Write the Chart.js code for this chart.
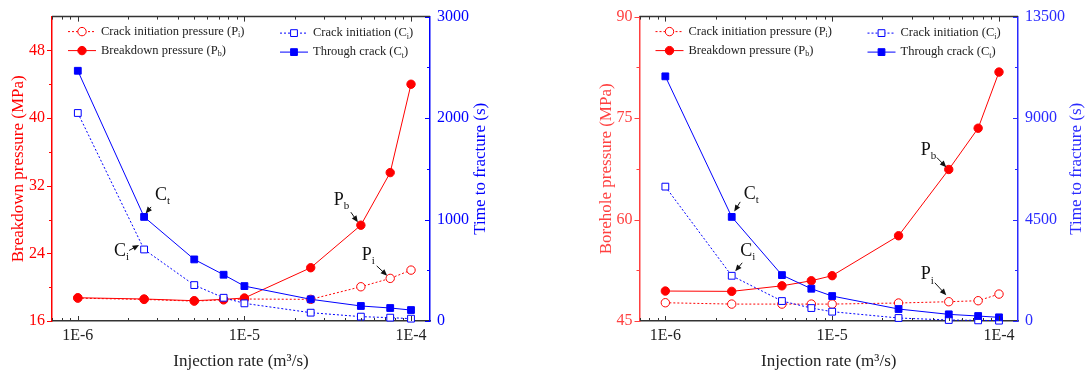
<!DOCTYPE html>
<html>
<head>
<meta charset="utf-8">
<script src="https://cdn.jsdelivr.net/npm/chart.js@4.4.0/dist/chart.umd.min.js"></script>
<style>
  html, body { margin: 0; padding: 0; background: #fff; }
  #wrap { display: flex; width: 1088px; height: 376px; }
  .box { width: 544px; height: 376px; }
</style>
</head>
<body>
<div id="wrap">
  <div class="box"><canvas id="left" width="544" height="376"></canvas></div>
  <div class="box"><canvas id="right" width="544" height="376"></canvas></div>
</div>
<script>
// shared x values (injection rate, m3/s)
const injectionRate = [1e-6, 2.5e-6, 5e-6, 7.5e-6, 1e-5, 2.5e-5, 5e-5, 7.5e-5, 1e-4];
const rateTicks = [1e-6, 1e-5, 1e-4];

// left panel
const leftPi = [18.7, 18.55, 18.35, 18.5, 18.6, 18.56, 20.05, 21.04, 22.02];
const leftPb = [18.75, 18.6, 18.4, 18.56, 18.72, 22.3, 27.33, 33.55, 44.0];
const leftCi = [2050, 705, 354, 229, 174, 82, 43, 33, 23];
const leftCt = [2466, 1026, 607, 456, 344, 214, 148, 128, 108];
const leftPressureTicks = [16, 24, 32, 40, 48];
const leftTimeTicks = [0, 1000, 2000, 3000];

// right panel
const rightPi = [47.7, 47.5, 47.5, 47.5, 47.5, 47.66, 47.85, 48.0, 48.98];
const rightPb = [49.43, 49.38, 50.2, 50.95, 51.7, 57.6, 67.4, 73.5, 81.8];
const rightCi = [5960, 2006, 885, 575, 413, 133, 44, 29, 15];
const rightCt = [10850, 4617, 2036, 1431, 1106, 531, 295, 221, 162];
const rightPressureTicks = [45, 60, 75, 90];
const rightTimeTicks = [0, 4500, 9000, 13500];

const SERIF = "'Liberation Serif', 'Times New Roman', serif";
Chart.defaults.font.family = SERIF;

const RED = '#ff0000', BLUE = '#0000ff';

const legendItems = [
  { ds: 0, col: 0, row: 0, text: ['Crack initiation pressure (P', 'i', ')'] },
  { ds: 1, col: 0, row: 1, text: ['Breakdown pressure (P', 'b', ')'] },
  { ds: 2, col: 1, row: 0, text: ['Crack initiation (C', 'i', ')'] },
  { ds: 3, col: 1, row: 1, text: ['Through crack (C', 't', ')'] }
];

function subText(ctx, parts, x, y, size, subSize, subDrop){
  ctx.font = size + 'px ' + SERIF;
  ctx.fillText(parts[0], x, y);
  x += ctx.measureText(parts[0]).width;
  ctx.font = subSize + 'px ' + SERIF;
  ctx.fillText(parts[1], x, y + subDrop);
  x += ctx.measureText(parts[1]).width;
  if (parts[2]) {
    ctx.font = size + 'px ' + SERIF;
    ctx.fillText(parts[2], x, y);
  }
}

function marker(ctx, style, x, y, r, color, filled){
  ctx.beginPath();
  if (style === 'circle') ctx.arc(x, y, r, 0, Math.PI * 2);
  else { const h = r * Math.SQRT1_2; ctx.rect(x - h, y - h, 2 * h, 2 * h); }
  ctx.fillStyle = filled ? color : '#fff';
  ctx.fill();
  ctx.lineWidth = 1; ctx.strokeStyle = color; ctx.setLineDash([]);
  ctx.stroke();
}

function arrow(ctx, x0, y0, x1, y1){
  const ang = Math.atan2(y1 - y0, x1 - x0), L = 6.5, W = 2.8;
  ctx.beginPath(); ctx.moveTo(x0, y0);
  ctx.lineTo(x1 - Math.cos(ang) * L * 0.8, y1 - Math.sin(ang) * L * 0.8); ctx.stroke();
  ctx.beginPath();
  ctx.moveTo(x1, y1);
  ctx.lineTo(x1 - Math.cos(ang) * L - Math.sin(ang) * W, y1 - Math.sin(ang) * L + Math.cos(ang) * W);
  ctx.lineTo(x1 - Math.cos(ang) * L + Math.sin(ang) * W, y1 - Math.sin(ang) * L - Math.cos(ang) * W);
  ctx.closePath(); ctx.fill();
}

// ticks, top frame line, right title, legend, annotations
const decor = {
  id: 'decor',
  afterDraw(chart){
    const p = chart.options.plugins.decor;
    const ctx = chart.ctx, a = chart.chartArea;
    const x = chart.scales.x, y = chart.scales.y, y1 = chart.scales.y1;
    ctx.save();
    // top frame
    ctx.strokeStyle = '#333'; ctx.lineWidth = 1.5;
    ctx.beginPath(); ctx.moveTo(a.left, a.top); ctx.lineTo(a.right, a.top); ctx.stroke();
    ctx.lineWidth = 1;
    // log x ticks, inward on top and bottom
    const lo = Math.floor(Math.log10(x.min)), hi = Math.ceil(Math.log10(x.max));
    for (let d = lo; d <= hi; d++) for (let k = 1; k <= 9; k++) {
      const v = k * Math.pow(10, d);
      if (v < x.min || v > x.max) continue;
      const px = Math.round(x.getPixelForValue(v)) + 0.5, len = k === 1 ? 5 : 3;
      ctx.beginPath();
      ctx.moveTo(px, a.bottom); ctx.lineTo(px, a.bottom - len);
      ctx.moveTo(px, a.top); ctx.lineTo(px, a.top + len);
      ctx.stroke();
    }
    // y ticks: left outward, right inward
    const yTicks = (s, ticks, color, dir, edge) => {
      ctx.strokeStyle = color;
      const step = ticks[1] - ticks[0];
      const draw = (v, len) => {
        const py = Math.round(s.getPixelForValue(v)) + 0.5;
        ctx.beginPath(); ctx.moveTo(edge, py); ctx.lineTo(edge + dir * len, py); ctx.stroke();
      };
      ticks.forEach(v => draw(v, 5));
      for (let v = ticks[0] + step / 2; v < s.max; v += step) draw(v, 3);
    };
    yTicks(y, p.pTicks, p.redAxis, -1, a.left);
    yTicks(y1, p.tTicks, p.blueAxis, -1, a.right);

    // right axis title, reading bottom to top
    ctx.fillStyle = p.blueAxis;
    ctx.font = '17px ' + SERIF; ctx.textAlign = 'center'; ctx.textBaseline = 'middle';
    ctx.translate(a.right + p.timeTitleGap, (a.top + a.bottom) / 2);
    ctx.rotate(-Math.PI / 2);
    ctx.fillText(p.timeTitle, 0, 0);
    ctx.restore();

    // legend inside the plot
    ctx.save();
    ctx.textAlign = 'left'; ctx.textBaseline = 'middle';
    legendItems.forEach(it => {
      const ds = chart.data.datasets[it.ds];
      const lx = a.left + (it.col ? 228 : 16), ly = a.top + (it.row ? 34 : 15) + (it.col ? 1.5 : 0);
      ctx.strokeStyle = ds.borderColor; ctx.lineWidth = 1;
      ctx.setLineDash(ds.borderDash || []);
      ctx.beginPath(); ctx.moveTo(lx, ly); ctx.lineTo(lx + 28, ly); ctx.stroke();
      marker(ctx, ds.pointStyle, lx + 14, ly, ds.pointRadius, ds.borderColor, ds.pointBackgroundColor !== '#fff');
      ctx.fillStyle = '#222';
      subText(ctx, it.text, lx + 33, ly, 12.5, 8, 3.5);
    });
    ctx.restore();

    // annotations
    ctx.save();
    ctx.fillStyle = '#111'; ctx.strokeStyle = '#111'; ctx.lineWidth = 1;
    ctx.textAlign = 'left'; ctx.textBaseline = 'middle';
    p.notes.forEach(n => {
      const pt = chart.getDatasetMeta(n.ds).data[n.idx];
      subText(ctx, n.label, pt.x + n.tx, pt.y + n.ty, 18, 11, 6);
      arrow(ctx, pt.x + n.a[0], pt.y + n.a[1], pt.x + n.a[2], pt.y + n.a[3]);
    });
    ctx.restore();
  }
};

function series(label, vals, color, axis, style, filled, dashed, order){
  return {
    label, yAxisID: axis, order,
    data: injectionRate.map((r, i) => ({ x: r, y: vals[i] })),
    borderColor: color, borderWidth: 1, borderDash: dashed ? [2, 2] : [],
    pointStyle: style, pointRadius: style === 'circle' ? 4.2 : 4.8,
    pointBackgroundColor: filled ? color : '#fff', pointBorderColor: color, pointBorderWidth: 1,
    fill: false, tension: 0, clip: false
  };
}

function makePanel(id, p){
  new Chart(document.getElementById(id), {
    type: 'line',
    data: { datasets: [
      series('Crack initiation pressure (Pi)', p.pi, RED, 'y', 'circle', false, true, 3),
      series('Breakdown pressure (Pb)', p.pb, RED, 'y', 'circle', true, false, 2),
      series('Crack initiation (Ci)', p.ci, BLUE, 'y1', 'rect', false, true, 1),
      series('Through crack (Ct)', p.ct, BLUE, 'y1', 'rect', true, false, 0)
    ]},
    options: {
      responsive: false, animation: false,
      layout: { padding: { left: p.padLeft, right: 0, top: 16, bottom: 0 } },
      plugins: { legend: { display: false }, tooltip: { enabled: false }, decor: p },
      scales: {
        x: {
          type: 'logarithmic', min: 7e-7, max: 1.3e-4,
          afterBuildTicks: s => { s.ticks = rateTicks.map(v => ({ value: v })); },
          afterFit: s => { s.height = 55; },
          grid: { display: false, drawTicks: false },
          border: { display: true, color: '#333', width: 1.5 },
          ticks: { color: '#222', font: { size: 16 }, padding: 5, maxRotation: 0, autoSkip: false,
                   callback: v => '1E' + Math.round(Math.log10(v)) },
          title: { display: true, text: 'Injection rate (m³/s)', color: '#222', font: { size: 17 }, padding: { top: 0, bottom: 4 } }
        },
        y: {
          position: 'left', min: p.pTicks[0], max: p.pMax,
          afterBuildTicks: s => { s.ticks = p.pTicks.map(v => ({ value: v })); },
          afterFit: s => { s.width = p.yWidth; },
          grid: { display: false, drawTicks: false },
          border: { display: true, color: p.redAxis, width: 1.5 },
          ticks: { color: p.redAxis, font: { size: 16 }, padding: 7, callback: v => String(v) },
          title: { display: true, text: p.pressureTitle, color: p.redAxis, font: { size: 17 }, padding: { top: 8 } }
        },
        y1: {
          position: 'right', min: 0, max: p.tTicks[p.tTicks.length - 1],
          afterBuildTicks: s => { s.ticks = p.tTicks.map(v => ({ value: v })); },
          afterFit: s => { s.width = p.y1Width; },
          grid: { display: false, drawTicks: false },
          border: { display: true, color: p.blueAxis, width: 1.5 },
          ticks: { color: p.blueAxis, font: { size: 16 }, padding: 7, callback: v => String(v) }
        }
      }
    },
    plugins: [decor]
  });
}

makePanel('left', {
  pi: leftPi, pb: leftPb, ci: leftCi, ct: leftCt,
  pTicks: leftPressureTicks, pMax: 52, tTicks: leftTimeTicks,
  padLeft: 0, yWidth: 52, y1Width: 114, timeTitleGap: 51,
  redAxis: RED, blueAxis: BLUE,
  pressureTitle: 'Breakdown pressure (MPa)', timeTitle: 'Time to fracture (s)',
  notes: [
    { ds: 3, idx: 1, label: ['C', 't'], tx: 11, ty: -22, a: [7, -10, 1.5, -3.5] },
    { ds: 2, idx: 1, label: ['C', 'i'], tx: -30, ty: 2, a: [-15, 1, -5, -4.5] },
    { ds: 1, idx: 6, label: ['P', 'b'], tx: -27, ty: -25, a: [-10, -13, -3, -3] },
    { ds: 0, idx: 7, label: ['P', 'i'], tx: -28.5, ty: -23, a: [-13.5, -12.5, -3, -2.7] }
  ]
});

makePanel('right', {
  pi: rightPi, pb: rightPb, ci: rightCi, ct: rightCt,
  pTicks: rightPressureTicks, pMax: 90, tTicks: rightTimeTicks,
  padLeft: 44, yWidth: 51.5, y1Width: 70, timeTitleGap: 59,
  redAxis: '#ff4040', blueAxis: '#2a2aff',
  pressureTitle: 'Borehole pressure (MPa)', timeTitle: 'Time to fracture (s)',
  notes: [
    { ds: 3, idx: 1, label: ['C', 't'], tx: 12, ty: -23, a: [8.5, -15, 2.5, -5.5] },
    { ds: 2, idx: 1, label: ['C', 'i'], tx: 8.5, ty: -25, a: [10.5, -13, 3.5, -4.5] },
    { ds: 1, idx: 6, label: ['P', 'b'], tx: -28, ty: -19, a: [-12, -12, -2.5, -2.3] },
    { ds: 0, idx: 6, label: ['P', 'i'], tx: -28, ty: -27, a: [-14, -19, -2.5, -6.5] }
  ]
});
</script>
</body>
</html>
